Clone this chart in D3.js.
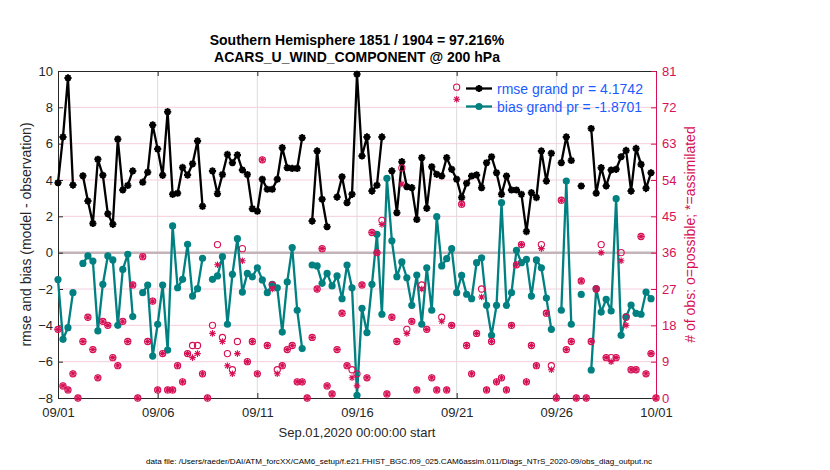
<!DOCTYPE html>
<html>
<head>
<meta charset="utf-8">
<script src="https://cdn.jsdelivr.net/npm/d3@7"></script>
<style>
body { margin: 0; background: #fff; }
svg { font-family: "Liberation Sans", Arial, Helvetica, sans-serif; }
</style>
</head>
<body>
<div class="canvas"></div>
<script>
// 6-hourly bins, 2020-09-01 00Z .. 2020-10-01 00Z (121 bins)
var rmse = [
    3.85, 6.37, 9.62, 3.72, null, 4.23, 2.84, 1.61, 5.14, 4.26,
    2.14, 1.56, 6.25, 3.45, 3.70, 4.50, null, 3.88, 4.43, 7.03,
    5.70, 4.26, 7.76, 3.21, 3.27, 4.69, 4.27, 4.89, 6.15, 2.55,
    null, 4.50, 3.25, 4.30, 5.41, 4.95, 5.38, 4.55, 4.30, 2.42,
    2.28, 4.04, 3.49, 3.49, 4.04, 5.78, 4.68, 4.64, 4.64, 6.33,
    null, 1.74, 5.60, 2.94, 1.43, null, 3.06, 4.18, 2.75, 3.21,
    9.82, 5.32, 6.37, 3.39, 3.71, 6.37, null, 4.50, 2.20, 5.01,
    3.63, 3.58, 1.83, 5.23, 2.44, 4.73, 4.31, 4.22, 5.23, 4.59,
    4.04, 3.03, 3.82, 4.22, 4.28, 3.58, 4.95, 5.28, 4.40, 3.21,
    4.22, 3.45, 3.45, 3.21, 1.16, 3.30, 3.03, 5.60, 3.94, 5.47,
    null, 4.95, 6.37, 5.08, null, 3.67, null, 6.83, 3.27, 4.68,
    3.67, 4.55, 4.59, 5.28, 5.63, 3.39, 5.74, 4.86, 3.54, 4.40,
    null
];

var bias = [
    -1.48, -4.77, -4.13, -2.20, null, -0.59, -0.18, -0.46, -4.31, -1.74,
    -0.18, -0.40, -4.00, -0.92, -0.09, -3.52, null, -2.20, -1.78, -5.69,
    -3.94, -1.78, -5.36, 1.47, -1.93, -1.47, 0.46, -2.39, -1.98, -0.31,
    null, -1.47, -1.28, -0.22, -3.94, -1.19, 0.77, -2.17, -1.14, -1.33,
    -0.83, -1.50, -2.20, -1.74, -1.93, -4.37, -1.61, 0.28, -3.17, -5.28,
    null, -0.68, -0.73, -1.69, -1.14, -1.83, -1.28, -2.53, -0.68, -1.93,
    -7.85, -3.06, -4.40, -1.74, 1.01, -3.39, 4.09, 0.65, -1.32, -0.51,
    -1.38, -2.90, -1.23, -3.94, -0.83, -3.17, 1.98, -0.73, -0.33, 0.22,
    -2.20, -1.25, -2.29, -2.53, -0.55, -0.28, -2.90, -4.55, -2.90, 2.75,
    -2.90, -2.20, 0.13, -0.55, -0.37, -2.39, -0.40, -0.83, -2.50, -4.22,
    null, -3.17, 3.94, -3.94, null, -2.30, null, -6.46, -1.98, -3.27,
    -2.57, -3.21, 2.97, -4.55, -3.52, -2.88, -3.34, -3.39, -2.17, -2.53,
    null
];

// obs counts: o = possible, * = assimilated
var nPossible = [
    17, 3, 2, 6, 0, 14, 20, 12, 5, 19,
    18, 10, 8, 19, 14, 28, 0, 35, 14, 24,
    2, 11, 2, 2, 8, 4, 11, 13, 13, 6,
    0, 18, 38, 15, 11, 7, 14, 37, 9, 14,
    6, 59, 13, 28, 7, 8, 12, 13, 4, 4,
    0, 15, 27, 37, 3, 1, 12, 21, 8, 7,
    6, 28, 5, 41, 36, 44, 1, 20, 14, 57,
    17, 19, 2, 28, 17, 5, 2, 20, 2, 18,
    77, 48, 13, 6, 16, 27, 2, 14, 4, 5,
    2, 18, 33, 38, 4, 13, 8, 38, 21, 8,
    0, 49, 12, 14, 0, 29, 0, 14, 27, 38,
    10, 10, 10, 36, 20, 7, 7, 40, 6, 11,
    0
];

var nUsed = [
    17, 3, 2, 6, 0, 14, 20, 12, 5, 19,
    18, 10, 8, 19, 14, 28, 0, 35, 14, 24,
    2, 11, 2, 2, 8, 4, 11, 10, 11, 6,
    0, 16, 33, 14, 8, 6, 11, 34, 9, 14,
    6, 59, 13, 27, 6, 8, 12, 13, 4, 4,
    0, 15, 27, 37, 3, 1, 12, 21, 8, 5,
    3, 28, 5, 41, 36, 43, 1, 20, 14, 53,
    16, 19, 2, 27, 17, 5, 2, 19, 2, 18,
    74, 48, 13, 6, 16, 25, 2, 14, 4, 5,
    2, 18, 33, 38, 4, 13, 8, 37, 21, 7,
    0, 49, 12, 14, 0, 29, 0, 14, 27, 36,
    10, 9, 10, 34, 18, 7, 7, 40, 6, 11,
    0
];

var tickDates = ['2020-09-01', '2020-09-06', '2020-09-11', '2020-09-16',
                 '2020-09-21', '2020-09-26', '2020-10-01'];
var leftTicks = [-8, -6, -4, -2, 0, 2, 4, 6, 8, 10];
var rightTicks = [0, 9, 18, 27, 36, 45, 54, 63, 72, 81];

var titleLines = ['Southern Hemisphere 1851 / 1904 = 97.216%',
                  'ACARS_U_WIND_COMPONENT @ 200 hPa'];
var legendLabels = ['rmse grand pr = 4.1742', 'bias grand pr = -1.8701'];
var footer = 'data file: /Users/raeder/DAI/ATM_forcXX/CAM6_setup/f.e21.FHIST_BGC.f09_025.CAM6assim.011/Diags_NTrS_2020-09/obs_diag_output.nc';

// where does it live
var W = 830, H = 470,
    box = { left: 58, right: 656, top: 71, bottom: 398 };

var ink = '#262626',
    red = 'rgb(215,16,85)',
    teal = 'rgb(0,128,128)',
    blue = '#1a5cff';

var parse = d3.utcParse('%Y-%m-%d'),
    t0 = parse(tickDates[0]);

var bins = d3.range(rmse.length).map(function (i) {
    return {
        t: d3.utcHour.offset(t0, 6 * i),
        rmse: rmse[i],
        bias: bias[i],
        poss: nPossible[i],
        used: nUsed[i]
    };
});

var x = d3.scaleUtc()
    .domain([t0, parse(tickDates[tickDates.length - 1])])
    .range([box.left, box.right]);
var yL = d3.scaleLinear().domain([-8, 10]).range([box.bottom, box.top]);
var yR = d3.scaleLinear().domain([0, 81]).range([box.bottom, box.top]);

var svg = d3.select('.canvas').append('svg')
    .attr('width', W)
    .attr('height', H);

// grid
svg.append('g').selectAll('line')
    .data(leftTicks.filter(function (d) { return d > -8 && d < 10 && d !== 0; }))
    .enter().append('line')
    .attr('x1', box.left).attr('x2', box.right)
    .attr('y1', function (d) { return yL(d); })
    .attr('y2', function (d) { return yL(d); })
    .attr('stroke', 'rgb(246,206,222)')
    .attr('stroke-width', 1);

svg.append('g').selectAll('line')
    .data(tickDates.slice(1, -1).map(parse))
    .enter().append('line')
    .attr('x1', function (d) { return x(d); })
    .attr('x2', function (d) { return x(d); })
    .attr('y1', box.top).attr('y2', box.bottom)
    .attr('stroke', '#dcdcdc')
    .attr('stroke-width', 1);

// zero line
svg.append('line')
    .attr('x1', box.left).attr('x2', box.right)
    .attr('y1', yL(0)).attr('y2', yL(0))
    .attr('stroke', 'rgb(196,180,186)')
    .attr('stroke-width', 2.5);

// axes
var tickVals = tickDates.map(parse);

var gx = svg.append('g')
    .attr('transform', 'translate(0,' + box.bottom + ')')
    .call(d3.axisBottom(x).tickValues(tickVals)
        .tickFormat(d3.utcFormat('%m/%d'))
        .tickSize(-5).tickSizeOuter(0).tickPadding(10));

var gt = svg.append('g')
    .attr('transform', 'translate(0,' + box.top + ')')
    .call(d3.axisTop(x).tickValues(tickVals).tickFormat('')
        .tickSize(-5).tickSizeOuter(0));

var gl = svg.append('g')
    .attr('transform', 'translate(' + box.left + ',0)')
    .call(d3.axisLeft(yL).tickValues(leftTicks)
        .tickSize(-5).tickSizeOuter(0).tickPadding(5));

var gr = svg.append('g')
    .attr('transform', 'translate(' + box.right + ',0)')
    .call(d3.axisRight(yR).tickValues(rightTicks)
        .tickSize(-5).tickSizeOuter(0).tickPadding(6));

[gx, gt, gl].forEach(function (g) {
    g.select('.domain').attr('stroke', ink);
    g.selectAll('.tick line').attr('stroke', ink);
    g.selectAll('text').attr('fill', ink).attr('font-size', 13)
        .attr('font-family', null);
});
gr.select('.domain').attr('stroke', red);
gr.selectAll('.tick line').attr('stroke', red);
gr.selectAll('text').attr('fill', red).attr('font-size', 13)
    .attr('font-family', null);

// markers
function star(r) {
    var a = r * 0.7071;
    return 'M' + (-r) + ',0L' + r + ',0M0,' + (-r) + 'L0,' + r +
        'M' + (-a) + ',' + (-a) + 'L' + a + ',' + a +
        'M' + (-a) + ',' + a + 'L' + a + ',' + (-a);
}

// rmse
var lineR = d3.line()
    .defined(function (d) { return d.rmse !== null; })
    .x(function (d) { return x(d.t); })
    .y(function (d) { return yL(d.rmse); });

svg.append('path')
    .datum(bins)
    .attr('d', lineR)
    .attr('fill', 'none')
    .attr('stroke', '#000')
    .attr('stroke-width', 2.3);

var rm = svg.append('g').selectAll('g')
    .data(bins.filter(function (d) { return d.rmse !== null; }))
    .enter().append('g')
    .attr('transform', function (d) {
        return 'translate(' + x(d.t) + ',' + yL(d.rmse) + ')';
    });
rm.append('circle').attr('r', 2.6).attr('fill', '#000');
rm.append('path').attr('d', star(3.6))
    .attr('stroke', '#000').attr('stroke-width', 2).attr('fill', 'none');

// bias
var lineB = d3.line()
    .defined(function (d) { return d.bias !== null; })
    .x(function (d) { return x(d.t); })
    .y(function (d) { return yL(d.bias); });

svg.append('path')
    .datum(bins)
    .attr('d', lineB)
    .attr('fill', 'none')
    .attr('stroke', teal)
    .attr('stroke-width', 2.3);

svg.append('g').selectAll('circle')
    .data(bins.filter(function (d) { return d.bias !== null; }))
    .enter().append('circle')
    .attr('cx', function (d) { return x(d.t); })
    .attr('cy', function (d) { return yL(d.bias); })
    .attr('r', 3.6)
    .attr('fill', teal);

// obs counts
svg.append('g').selectAll('circle')
    .data(bins)
    .enter().append('circle')
    .attr('cx', function (d) { return x(d.t); })
    .attr('cy', function (d) { return yR(d.poss); })
    .attr('r', 3.1)
    .attr('fill', 'none')
    .attr('stroke', red)
    .attr('stroke-width', 1.1);

svg.append('g').selectAll('path')
    .data(bins)
    .enter().append('path')
    .attr('transform', function (d) {
        return 'translate(' + x(d.t) + ',' + yR(d.used) + ')';
    })
    .attr('d', star(3.3))
    .attr('stroke', red)
    .attr('stroke-width', 1.1)
    .attr('fill', 'none');

// legend
var leg = svg.append('g');
[['#000', 88.5], [teal, 106.5]].forEach(function (s, i) {
    leg.append('line')
        .attr('x1', 466).attr('x2', 492)
        .attr('y1', s[1]).attr('y2', s[1])
        .attr('stroke', s[0]).attr('stroke-width', 2.3);
    if (i === 0) {
        leg.append('circle').attr('cx', 479).attr('cy', s[1])
            .attr('r', 2.6).attr('fill', '#000');
        leg.append('path').attr('d', star(3.6))
            .attr('transform', 'translate(479,' + s[1] + ')')
            .attr('stroke', '#000').attr('stroke-width', 2).attr('fill', 'none');
    } else {
        leg.append('circle').attr('cx', 479).attr('cy', s[1])
            .attr('r', 3.6).attr('fill', teal);
    }
    leg.append('text')
        .attr('x', 497).attr('y', s[1] + 5)
        .attr('font-size', 14)
        .attr('fill', blue)
        .text(legendLabels[i]);
});

// titles and labels
svg.selectAll('.title')
    .data(titleLines)
    .enter().append('text')
    .attr('x', (box.left + box.right) / 2)
    .attr('y', function (d, i) { return 45 + i * 17; })
    .attr('text-anchor', 'middle')
    .attr('font-size', 14)
    .attr('font-weight', 'bold')
    .attr('fill', '#000')
    .text(function (d) { return d; });

svg.append('text')
    .attr('x', (box.left + box.right) / 2)
    .attr('y', 437)
    .attr('text-anchor', 'middle')
    .attr('font-size', 13)
    .attr('fill', ink)
    .text('Sep.01,2020 00:00:00 start');

svg.append('text')
    .attr('transform', 'translate(31,' + (box.top + box.bottom) / 2 + ') rotate(-90)')
    .attr('text-anchor', 'middle')
    .attr('font-size', 14)
    .attr('fill', ink)
    .text('rmse and bias (model - observation)');

svg.append('text')
    .attr('transform', 'translate(695,' + (box.top + box.bottom) / 2 + ') rotate(-90)')
    .attr('text-anchor', 'middle')
    .attr('font-size', 14)
    .attr('fill', red)
    .text('# of obs: o=possible; *=assimilated');

svg.append('text')
    .attr('x', 146)
    .attr('y', 464)
    .attr('font-size', 8)
    .attr('textLength', 506)
    .attr('lengthAdjust', 'spacingAndGlyphs')
    .attr('fill', '#000')
    .text(footer);
</script>
</body>
</html>
